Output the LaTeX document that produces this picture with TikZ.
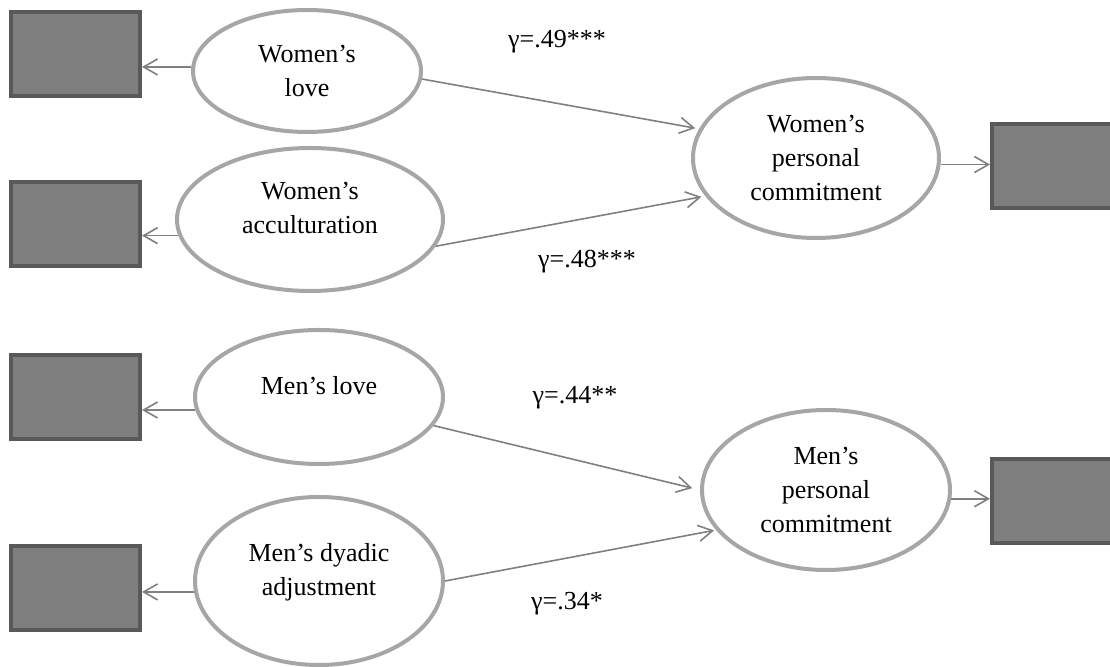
\documentclass[tikz,border=0pt]{standalone}
\usepackage{fontspec}
\setmainfont{Liberation Serif}
\usetikzlibrary{arrows.meta,shapes.geometric}
\definecolor{EllipseGray}{HTML}{A6A6A6}
\definecolor{BoxFill}{HTML}{7F7F7F}
\definecolor{BoxEdge}{HTML}{595959}
\definecolor{LineGray}{HTML}{808080}

\begin{document}
\begin{tikzpicture}[
  x=0.5pt, y=-0.5pt,
  latent/.style={ellipse, draw=EllipseGray, line width=2pt, fill=white, align=center, inner sep=0pt, font=\fontsize{13}{17}\selectfont},
  indicator/.style={rectangle, draw=BoxEdge, fill=BoxFill, line width=2pt, minimum width=64.5pt, minimum height=42pt, inner sep=0pt},
  arrow/.style={-{Straight Barb[length=7pt,width=8pt]}, line width=0.8pt, draw=LineGray},
  coef/.style={font=\fontsize{13}{17}\selectfont, inner sep=0pt}
]
\path[use as bounding box, clip] (0,0) rectangle (1110,667);
\fill[white] (0,0) rectangle (1110,667);

% observed indicators
\node[indicator] (wlovebox) at (75.5,54) {};
\node[indicator] (waccbox) at (75.5,224) {};
\node[indicator] (mlovebox) at (75.5,397) {};
\node[indicator] (mdyabox) at (75.5,588) {};
\node[indicator, minimum width=68pt] (wcombox) at (1060,166.5) {};
\node[indicator, minimum width=68pt] (mcombox) at (1060,501) {};

% latent variables
\node[latent, minimum width=114pt, minimum height=61pt] (wlove) at (307,71) {Women's\\love};
\node[latent, minimum width=133pt, minimum height=71.5pt] (wacc) at (310,219.5) {Women's\\acculturation\\[-5pt]\mbox{}};
\node[latent, minimum width=123pt, minimum height=80pt] (wcom) at (816,158) {Women's\\personal\\commitment};
\node[latent, minimum width=124pt, minimum height=67pt] (mlove) at (319,397) {Men's love\\[-5pt]\mbox{}};
\node[latent, minimum width=124pt, minimum height=84pt] (mdya) at (319,581) {Men's dyadic\\adjustment\\[-5pt]\mbox{}};
\node[latent, minimum width=124pt, minimum height=80pt] (mcom) at (826,490) {Men's\\personal\\commitment};

% measurement arrows
\draw[arrow] (wlove.178) -- (wlove.178 -| wlovebox.east);
\draw[arrow] (wacc.187) -- (wacc.187 -| waccbox.east);
\draw[arrow] (mlove.186) -- (mlove.186 -| mlovebox.east);
\draw[arrow] (mdya.185) -- (mdya.185 -| mdyabox.east);
\draw[arrow] (wcom.-3) -- (wcom.-3 -| wcombox.west);
\draw[arrow] (mcom.-4) -- (mcom.-4 -| mcombox.west);

% structural paths
\draw[arrow, shorten >=2pt] (wlove.-4) -- (wcom.166);
\draw[arrow, shorten >=2pt] (wacc.-12) -- (wcom.199);
\draw[arrow, shorten >=4pt] (mlove.-14) -- (mcom.180);
\draw[arrow, shorten >=1pt] (mdya.0) -- (mcom.200);

\node[coef] (g49) at (557,42) {γ=.49***};
\node[coef] (g48) at (587,262) {γ=.48***};
\node[coef] (g44) at (575,398) {γ=.44**};
\node[coef] (g34) at (567,604) {γ=.34*};
\end{tikzpicture}
\end{document}
